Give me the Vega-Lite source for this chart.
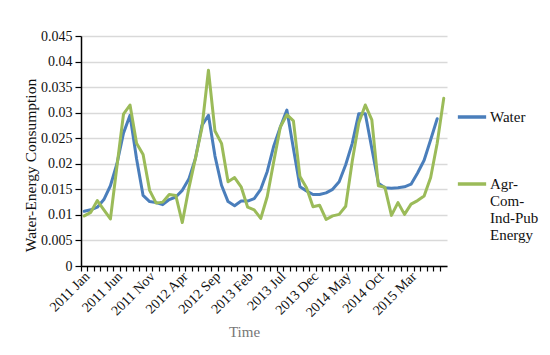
{
  "$schema": "https://vega.github.io/schema/vega-lite/v6.json",
  "width": 366,
  "height": 230,
  "autosize": {"type": "none"},
  "padding": {"left": 81, "top": 36, "right": 103, "bottom": 89},
  "background": "white",
  "config": {"view": {"stroke": null}, "font": "Liberation Serif"},
  "data": {"values": [
    {"month": "2011 Jan", "water": 0.0107, "energy": 0.0098},
    {"month": "2011 Feb", "water": 0.011, "energy": 0.0105},
    {"month": "2011 Mar", "water": 0.0115, "energy": 0.0128},
    {"month": "2011 Apr", "water": 0.013, "energy": 0.011},
    {"month": "2011 May", "water": 0.0157, "energy": 0.0092},
    {"month": "2011 Jun", "water": 0.02, "energy": 0.0195},
    {"month": "2011 Jul", "water": 0.026, "energy": 0.0297},
    {"month": "2011 Aug", "water": 0.0295, "energy": 0.0315},
    {"month": "2011 Sep", "water": 0.021, "energy": 0.024},
    {"month": "2011 Oct", "water": 0.0138, "energy": 0.0218},
    {"month": "2011 Nov", "water": 0.0126, "energy": 0.0148},
    {"month": "2011 Dec", "water": 0.0124, "energy": 0.0123},
    {"month": "2012 Jan", "water": 0.012, "energy": 0.0125},
    {"month": "2012 Feb", "water": 0.013, "energy": 0.014},
    {"month": "2012 Mar", "water": 0.0135, "energy": 0.0138},
    {"month": "2012 Apr", "water": 0.0148, "energy": 0.0085},
    {"month": "2012 May", "water": 0.017, "energy": 0.0152},
    {"month": "2012 Jun", "water": 0.021, "energy": 0.021},
    {"month": "2012 Jul", "water": 0.0275, "energy": 0.027},
    {"month": "2012 Aug", "water": 0.0295, "energy": 0.0383},
    {"month": "2012 Sep", "water": 0.0215, "energy": 0.0264},
    {"month": "2012 Oct", "water": 0.0158, "energy": 0.024},
    {"month": "2012 Nov", "water": 0.0126, "energy": 0.0165},
    {"month": "2012 Dec", "water": 0.0118, "energy": 0.0173},
    {"month": "2013 Jan", "water": 0.0127, "energy": 0.0155},
    {"month": "2013 Feb", "water": 0.0127, "energy": 0.0115},
    {"month": "2013 Mar", "water": 0.0132, "energy": 0.011},
    {"month": "2013 Apr", "water": 0.015, "energy": 0.0093},
    {"month": "2013 May", "water": 0.0185, "energy": 0.0136},
    {"month": "2013 Jun", "water": 0.0235, "energy": 0.0205},
    {"month": "2013 Jul", "water": 0.0272, "energy": 0.0272},
    {"month": "2013 Aug", "water": 0.0305, "energy": 0.0296},
    {"month": "2013 Sep", "water": 0.023, "energy": 0.0284},
    {"month": "2013 Oct", "water": 0.0155, "energy": 0.0175},
    {"month": "2013 Nov", "water": 0.0147, "energy": 0.0153},
    {"month": "2013 Dec", "water": 0.014, "energy": 0.0116},
    {"month": "2014 Jan", "water": 0.014, "energy": 0.0119},
    {"month": "2014 Feb", "water": 0.0143, "energy": 0.0091},
    {"month": "2014 Mar", "water": 0.015, "energy": 0.0098},
    {"month": "2014 Apr", "water": 0.0165, "energy": 0.0101},
    {"month": "2014 May", "water": 0.0198, "energy": 0.0117},
    {"month": "2014 Jun", "water": 0.024, "energy": 0.0205},
    {"month": "2014 Jul", "water": 0.0298, "energy": 0.028},
    {"month": "2014 Aug", "water": 0.0298, "energy": 0.0315},
    {"month": "2014 Sep", "water": 0.023, "energy": 0.0286},
    {"month": "2014 Oct", "water": 0.0162, "energy": 0.0157},
    {"month": "2014 Nov", "water": 0.0153, "energy": 0.0154},
    {"month": "2014 Dec", "water": 0.0152, "energy": 0.0099},
    {"month": "2015 Jan", "water": 0.0153, "energy": 0.0124},
    {"month": "2015 Feb", "water": 0.0155, "energy": 0.0101},
    {"month": "2015 Mar", "water": 0.016, "energy": 0.0121},
    {"month": "2015 Apr", "water": 0.0182, "energy": 0.0128},
    {"month": "2015 May", "water": 0.0207, "energy": 0.0137},
    {"month": "2015 Jun", "water": 0.0247, "energy": 0.0173},
    {"month": "2015 Jul", "water": 0.0288, "energy": 0.024},
    {"month": "2015 Aug", "water": null, "energy": 0.0328}
  ]},
  "transform": [{"fold": ["water", "energy"], "as": ["series", "value"]}],
  "mark": {"type": "line", "strokeWidth": 3, "strokeJoin": "round", "strokeCap": "round"},
  "encoding": {
    "x": {
      "field": "month",
      "type": "ordinal",
      "sort": null,
      "scale": {"type": "band", "paddingInner": 0, "paddingOuter": 0},
      "axis": {
        "bandPosition": 0,
        "labelOffset": 3.3,
        "labelAngle": -45,
        "labelAlign": "right",
        "labelBaseline": "middle",
        "labelFont": "Liberation Serif",
        "labelFontSize": 14,
        "labelColor": "#111",
        "labelPadding": 3,
        "labelOverlap": false,
        "labelExpr": "indexof(['2011 Jan','2011 Jun','2011 Nov','2012 Apr','2012 Sep','2013 Feb','2013 Jul','2013 Dec','2014 May','2014 Oct','2015 Mar'], datum.value) >= 0 ? datum.value : ''",
        "domainColor": "#000",
        "domainWidth": 1.5,
        "tickColor": "#000",
        "tickSize": 5,
        "tickWidth": 1.2,
        "grid": false,
        "title": "Time",
        "titleFont": "Liberation Serif",
        "titleFontSize": 15,
        "titleFontWeight": "normal",
        "titleColor": "#777",
        "titleX": 163,
        "titleY": 58,
        "titleBaseline": "top"
      }
    },
    "y": {
      "field": "value",
      "type": "quantitative",
      "scale": {"domain": [0, 0.045], "nice": false},
      "axis": {
        "values": [0, 0.005, 0.01, 0.015, 0.02, 0.025, 0.03, 0.035, 0.04, 0.045],
        "format": "~g",
        "labelFont": "Liberation Serif",
        "labelFontSize": 14,
        "labelColor": "#111",
        "labelPadding": 3,
        "domainColor": "#000",
        "domainWidth": 1.5,
        "tickColor": "#000",
        "tickSize": 6,
        "tickWidth": 1.2,
        "grid": true,
        "gridColor": "#d9d9d9",
        "gridWidth": 1.5,
        "title": "Water-Energy Consumption",
        "titleFont": "Liberation Serif",
        "titleFontSize": 15.5,
        "titleFontWeight": "normal",
        "titleColor": "#111",
        "titleX": -43,
        "titleY": 129,
        "titleAngle": -90,
        "titleAlign": "center",
        "titleBaseline": "bottom"
      }
    },
    "color": {
      "field": "series",
      "type": "nominal",
      "scale": {"domain": ["water", "energy"], "range": ["#4a7ebb", "#9bbb59"]},
      "legend": {
        "orient": "none",
        "legendX": 375,
        "legendY": 65,
        "direction": "vertical",
        "title": null,
        "padding": 0,
        "symbolType": "stroke",
        "symbolStrokeWidth": 3.5,
        "symbolSize": 800,
        "labelFont": "Liberation Serif",
        "labelFontSize": 15,
        "labelColor": "#111",
        "labelOffset": 2,
        "labelLimit": 0,
        "labelBaseline": "middle",
        "rowPadding": 43,
        "labelExpr": "datum.label == 'water' ? 'Water' : ['Agr-', 'Com-', 'Ind-Pub', 'Energy']"
      }
    }
  }
}
